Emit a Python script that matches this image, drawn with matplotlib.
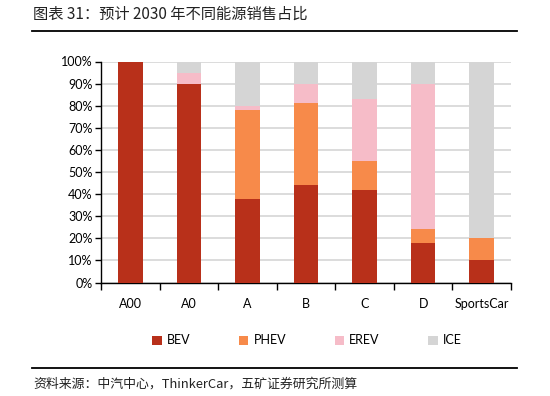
import matplotlib
matplotlib.use('Agg')
import matplotlib.pyplot as plt
import numpy as np
from matplotlib.patches import Patch

plt.rcParams['font.family'] = ['Lato', 'Noto Sans CJK SC', 'DejaVu Sans']

categories = ['A00', 'A0', 'A', 'B', 'C', 'D', 'SportsCar']
bev  = [100, 90, 38, 44, 42, 18, 10]
phev = [0, 0, 40, 37, 13, 6, 10]
erev = [0, 5, 2, 9, 28, 66, 0]
ice  = [0, 5, 20, 10, 17, 10, 80]

series = [('BEV', bev, '#B8301A'),
          ('PHEV', phev, '#F78A4A'),
          ('EREV', erev, '#F6BCC8'),
          ('ICE', ice, '#D5D5D5')]

W, H = 550, 396
fig = plt.figure(figsize=(5.5, 3.96), dpi=100)
ax = fig.add_axes([101 / W, 1 - 282.5 / H, (511 - 101) / W, (282.5 - 61.5) / H])

x = np.arange(len(categories))
bottom = np.zeros(len(categories))
for name, vals, col in series:
    v = np.array(vals) / 100.0
    ax.bar(x, v, 0.42, bottom=bottom, color=col, edgecolor='none', zorder=3)
    bottom += v

ax.set_xlim(-0.5, len(categories) - 0.5)
ax.set_ylim(0, 1)
ax.set_yticks(np.arange(0, 1.01, 0.1))
ax.set_yticklabels([f'{int(round(t * 100))}%' for t in np.arange(0, 1.01, 0.1)])
ax.yaxis.grid(True, color='#D9D9D9', linewidth=1.3, zorder=0)
ax.set_axisbelow(True)

# ticks between categories on x axis
ax.set_xticks(np.arange(-0.5, len(categories), 1.0))
ax.set_xticklabels([])
ax.set_xticks(x, minor=True)
ax.set_xticklabels(categories, minor=True)
ax.tick_params(axis='x', which='major', length=5, width=1, color='black', direction='out')
ax.tick_params(axis='x', which='minor', length=0, pad=11, labelsize=9)
ax.tick_params(axis='y', length=4, width=1, labelsize=9, pad=2)

for s in ['top', 'right']:
    ax.spines[s].set_visible(False)
ax.spines['left'].set_linewidth(1)
ax.spines['bottom'].set_linewidth(1)

handles = [Patch(facecolor=c, edgecolor='none', label=n) for n, _, c in series]
fig.legend(handles=handles, loc='center', bbox_to_anchor=(307 / W, 1 - 340.5 / H),
           ncol=4, frameon=False, fontsize=9, handlelength=0.75, handleheight=0.75,
           handletextpad=0.4, columnspacing=3.9)

# title and source
fig.text(33 / W, 1 - 14 / H, '图表 31：预计 2030 年不同能源销售占比', fontsize=11,
         family=['Noto Sans CJK SC', 'DejaVu Sans'], va='center', ha='left', color='#222222')
fig.add_artist(plt.Line2D([32 / W, 517 / W], [1 - 31 / H, 1 - 31 / H], color='black', linewidth=1.3))
fig.add_artist(plt.Line2D([32 / W, 517 / W], [1 - 368 / H, 1 - 368 / H], color='black', linewidth=1.3))
fig.text(33 / W, 1 - 384 / H, '资料来源：中汽中心，ThinkerCar，五矿证券研究所测算', fontsize=9.3,
         family=['Noto Sans CJK SC', 'DejaVu Sans'], va='center', ha='left', color='#222222')

fig.savefig('out.png', dpi=100)
